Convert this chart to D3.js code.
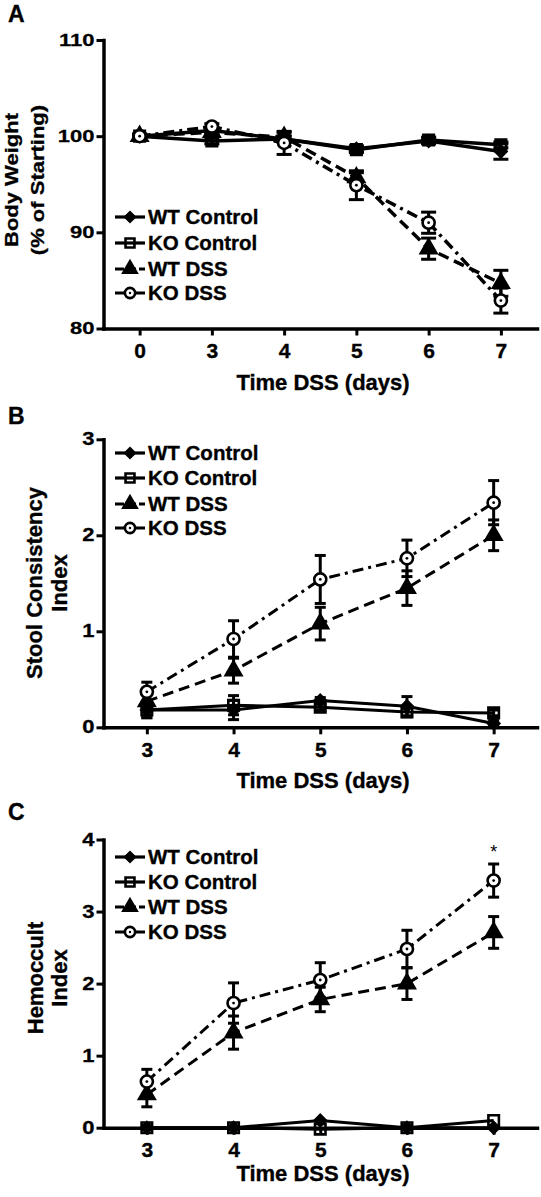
<!DOCTYPE html>
<html><head><meta charset="utf-8">
<script src="https://cdn.jsdelivr.net/npm/d3@7"></script>
<style>
body{margin:0;background:#fff;}
svg text{font-family:"Liberation Sans",Arial,Helvetica,sans-serif;font-weight:bold;fill:#000;stroke:#000;stroke-width:0.35px;}
</style></head><body>
<svg id="chart" width="541" height="1197"></svg>
<script>
// ---------- DATA ----------
const seriesNames = ["WT Control", "KO Control", "WT DSS", "KO DSS"];

// Panel A: Body weight (% of starting)
const daysA = ["0", "3", "4", "5", "6", "7"];
const yTicksA = [80, 90, 100, 110];
const wtControlA    = [100, 100.6, 99.7, 98.7, 99.5, 98.4];
const wtControlAErr = [0.2, 0.3, 0.3, 0.3, 0.3, 0.8];
const koControlA    = [100, 99.5, 99.7, 98.6, 99.6, 99.1];
const koControlAErr = [0.2, 0.3, 0.3, 0.3, 0.3, 0.3];
const wtDssA        = [100, 100.4, 99.9, 95.7, 88.3, 84.7];
const wtDssAErr     = [0.2, 0.3, 0.5, 0.5, 1.1, 1.35];
const koDssA        = [100, 101.0, 99.3, 94.9, 91.0, 82.9];
const koDssAErr     = [0.2, 0.3, 1.2, 1.5, 1.1, 1.3];

// Panel B: Stool consistency index
const daysBC = ["3", "4", "5", "6", "7"];
const yTicksB = [0, 1, 2, 3];
const wtControlB    = [0.18, 0.18, 0.28, 0.22, 0.04];
const wtControlBErr = [0.08, 0.10, 0.03, 0.10, 0.03];
const koControlB    = [0.18, 0.23, 0.21, 0.16, 0.15];
const koControlBErr = [0.08, 0.10, 0.03, 0.05, 0.03];
const wtDssB        = [0.27, 0.59, 1.08, 1.45, 2.00];
const wtDssBErr     = [0.10, 0.13, 0.17, 0.18, 0.16];
const koDssB        = [0.37, 0.92, 1.54, 1.76, 2.34];
const koDssBErr     = [0.10, 0.19, 0.25, 0.19, 0.23];

// Panel C: Hemoccult index
const yTicksC = [0, 1, 2, 3, 4];
const wtControlC    = [0, 0, 0.10, 0, 0];
const wtControlCErr = [0, 0, 0, 0, 0];
const koControlC    = [0, 0, -0.02, 0, 0.10];
const koControlCErr = [0, 0, 0, 0, 0];
const wtDssC        = [0.46, 1.32, 1.78, 2.00, 2.71];
const wtDssCErr     = [0.17, 0.23, 0.17, 0.22, 0.22];
const koDssC        = [0.64, 1.73, 2.05, 2.48, 3.43];
const koDssCErr     = [0.17, 0.28, 0.24, 0.26, 0.23];

// ---------- STYLE ----------
const styles = {
  "WT Control": {type: d3.symbolSquare,   size: 62,  rotate: 45, fill: "#000",  dash: null},
  "KO Control": {type: d3.symbolSquare,   size: 110, rotate: 0,  fill: "none",  dash: null},
  "WT DSS":     {type: d3.symbolTriangle, size: 105, rotate: 0,  fill: "#000",  dash: "11,6"},
  "KO DSS":     {type: d3.symbolCircle,   size: 115, rotate: 0,  fill: "#fff",  dash: "11,5,3,5", dot: true}
};

const svg = d3.select("#chart");
const FONT = '"Liberation Sans",Arial,Helvetica,sans-serif';

function drawMarker(g, name, cx, cy, scale) {
  const st = styles[name];
  const m = g.append("g").attr("transform", `translate(${cx},${cy}) rotate(${st.rotate})`);
  m.append("path")
    .attr("d", d3.symbol().type(st.type).size(st.size * scale * scale)())
    .attr("fill", st.fill)
    .attr("stroke", "#000")
    .attr("stroke-width", 2.6);
  if (st.dot) m.append("circle").attr("r", 1.4 * scale).attr("fill", "#000");
}

function drawPanel(p) {
  const g = svg.append("g");
  const x = d3.scalePoint().domain(p.days).range([p.left, p.right]).padding(0.5);
  const y = d3.scaleLinear().domain(p.yDomain).range([p.bottom, p.top]);

  // panel letter
  g.append("text").attr("x", 8).attr("y", p.letterY).attr("font-size", 23).text(p.letter);

  // y axis
  const ya = g.append("g").attr("transform", `translate(${p.left},0)`)
    .call(d3.axisLeft(y).tickValues(p.yTicks).tickFormat(d3.format("d")).tickSize(7).tickSizeOuter(0).tickPadding(2));
  ya.select(".domain").attr("stroke", "#000").attr("stroke-width", 3.5).attr("stroke-linecap", "square");
  ya.selectAll(".tick line").attr("stroke", "#000").attr("stroke-width", 3);
  ya.selectAll(".tick text").attr("font-size", 22).attr("font-family", FONT)
    .attr("transform", `scale(1,${p.tickSquash})`);

  // x axis
  const xa = g.append("g").attr("transform", `translate(0,${p.bottom})`)
    .call(d3.axisBottom(x).tickSize(7).tickSizeOuter(0));
  xa.select(".domain").attr("stroke", "#000").attr("stroke-width", 3.5).attr("stroke-linecap", "square");
  xa.selectAll(".tick line").attr("stroke", "#000").attr("stroke-width", 3);
  xa.selectAll(".tick text").attr("font-size", 21).attr("font-family", FONT).attr("y", 29.5).attr("dy", 0);

  // axis titles
  g.append("text").attr("x", 323).attr("y", p.xTitleY).attr("text-anchor", "middle")
    .attr("font-size", 22).text("Time DSS (days)");
  p.yTitle.forEach((t, i) => {
    g.append("text")
      .attr("transform", `translate(${p.yTitleX[i]},${p.yTitleCy}) rotate(-90) scale(1,${p.titleSquash})`)
      .attr("text-anchor", "middle").attr("font-size", 22).text(t);
  });

  const plot = g.append("g");
  const line = d3.line().x((d, i) => x(p.days[i])).y(d => y(d));

  // lines
  p.series.forEach(s => {
    const st = styles[s.name];
    plot.append("path").datum(s.values).attr("d", line)
      .attr("fill", "none").attr("stroke", "#000").attr("stroke-width", p.lineW)
      .attr("stroke-dasharray", st.dash);
  });
  // error bars
  p.series.forEach(s => {
    s.values.forEach((v, i) => {
      const e = s.err[i];
      if (!e) return;
      const cx = x(p.days[i]);
      const eb = plot.append("g").attr("stroke", "#000").attr("stroke-width", 3);
      eb.append("line").attr("x1", cx).attr("x2", cx).attr("y1", y(v - e)).attr("y2", y(v + e));
      [v - e, v + e].forEach(w => {
        eb.append("line").attr("x1", cx - p.cap / 2).attr("x2", cx + p.cap / 2).attr("y1", y(w)).attr("y2", y(w));
      });
    });
  });
  // markers
  p.series.forEach(s => {
    s.values.forEach((v, i) => drawMarker(plot, s.name, x(p.days[i]), y(v), 1));
  });

  // legend
  const lg = g.append("g");
  seriesNames.forEach((n, i) => {
    const ry = p.legendY[i];
    lg.append("line").attr("x1", 115).attr("x2", 145).attr("y1", ry).attr("y2", ry)
      .attr("stroke", "#000").attr("stroke-width", 3.2)
      .attr("stroke-dasharray", n === "WT DSS" ? "9,3" : (n === "KO DSS" ? "9,3,30,0" : null));
    drawMarker(lg, n, 130, ry, 0.85);
    lg.append("text").attr("x", 148).attr("y", ry + 7.3).attr("font-size", 20.5).text(n);
  });

  return {x, y, g};
}

function mk(vals) {
  return seriesNames.map((n, i) => ({name: n, values: vals[i][0], err: vals[i][1]}));
}

drawPanel({
  letter: "A", letterY: 22,
  days: daysA, yDomain: [80, 110], yTicks: yTicksA,
  left: 103.5, right: 537, top: 40, bottom: 328.5,
  tickSquash: 0.72, titleSquash: 0.82,
  xTitleY: 390, yTitle: ["Body Weight", "(% of Starting)"], yTitleX: [18, 43.5], yTitleCy: 180,
  lineW: 3.5, cap: 15,
  legendY: [217, 243, 269, 293],
  series: mk([[wtControlA, wtControlAErr], [koControlA, koControlAErr], [wtDssA, wtDssAErr], [koDssA, koDssAErr]])
});

drawPanel({
  letter: "B", letterY: 423.5,
  days: daysBC, yDomain: [0, 3], yTicks: yTicksB,
  left: 103.5, right: 537, top: 439.3, bottom: 727.3,
  tickSquash: 0.8, titleSquash: 1,
  xTitleY: 788, yTitle: ["Stool Consistency", "Index"], yTitleX: [41.5, 67], yTitleCy: 583,
  lineW: 3, cap: 11,
  legendY: [453, 478, 504, 528],
  series: mk([[wtControlB, wtControlBErr], [koControlB, koControlBErr], [wtDssB, wtDssBErr], [koDssB, koDssBErr]])
});

const pc = drawPanel({
  letter: "C", letterY: 820,
  days: daysBC, yDomain: [0, 4], yTicks: yTicksC,
  left: 103.5, right: 537, top: 839.5, bottom: 1127.7,
  tickSquash: 0.8, titleSquash: 1,
  xTitleY: 1181, yTitle: ["Hemoccult", "Index"], yTitleX: [42.5, 67], yTitleCy: 978,
  lineW: 3, cap: 11,
  legendY: [857, 882, 907, 932],
  series: mk([[wtControlC, wtControlCErr], [koControlC, koControlCErr], [wtDssC, wtDssCErr], [koDssC, koDssCErr]])
});

// significance marker
pc.g.append("text").attr("x", pc.x("7")).attr("y", 858).attr("text-anchor", "middle")
  .attr("font-size", 18).style("font-weight", "normal").style("stroke-width", "0px").text("*");
</script>
</body></html>
